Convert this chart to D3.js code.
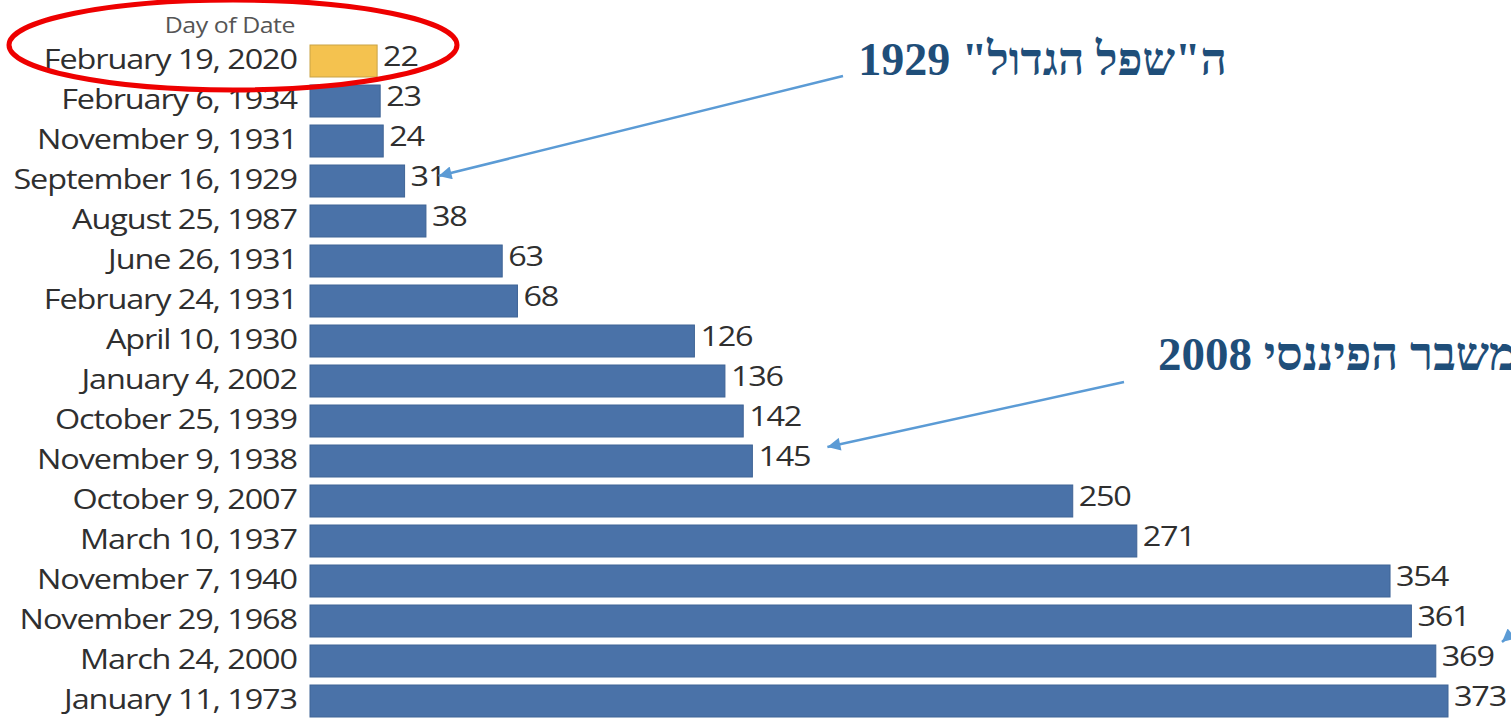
<!DOCTYPE html>
<html>
<head>
<meta charset="utf-8">
<script src="https://cdn.jsdelivr.net/npm/d3@7"></script>
<style>
  body { margin: 0; background: #fff; overflow: hidden; }
  svg { display: block; }
</style>
</head>
<body>
<svg id="chart"></svg>
<script>
// data
const dates = [
  "February 19, 2020", "February 6, 1934", "November 9, 1931", "September 16, 1929",
  "August 25, 1987", "June 26, 1931", "February 24, 1931", "April 10, 1930",
  "January 4, 2002", "October 25, 1939", "November 9, 1938", "October 9, 2007",
  "March 10, 1937", "November 7, 1940", "November 29, 1968", "March 24, 2000",
  "January 11, 1973"
];
const days = [22, 23, 24, 31, 38, 63, 68, 126, 136, 142, 145, 250, 271, 354, 361, 369, 373];
const highlight = ["February 19, 2020"];
const axisTitle = "Day of Date";

// annotations (hebrew callouts)
const noteTexts = ['ה"שפל הגדול" 1929', "המשבר הפיננסי 2008"];

const width = 1511, height = 718;
const margin = {top: 41, left: 310};
const labelFont = "'Open Sans', sans-serif";
const stretch = 1.2; // the source picture is a bit wider than tall

const svg = d3.select("#chart")
  .attr("width", width)
  .attr("height", height);

const data = dates.map((d, i) => ({date: d, value: days[i]}));

const x = d3.scaleLinear()
  .domain([0, d3.max(days)])
  .range([margin.left, 1448]);

const y = d3.scaleBand()
  .domain(dates)
  .range([margin.top, 721])
  .paddingInner(0.2)
  .paddingOuter(0.1);

// bars
svg.append("g").selectAll("rect")
  .data(data)
  .join("rect")
    .attr("x", x(0))
    .attr("y", d => y(d.date))
    .attr("width", d => x(d.value) - x(0))
    .attr("height", y.bandwidth())
    .attr("fill", d => highlight.includes(d.date) ? "#f4c24f" : "#4a72a8")
    .attr("stroke", d => highlight.includes(d.date) ? "#c9a346" : "#3f6496")
    .attr("stroke-width", 1);

// value labels
svg.append("g").selectAll("text")
  .data(data)
  .join("text")
    .attr("transform", d => `translate(${x(d.value) + 6},${y(d.date) + y.bandwidth() / 2}) scale(${stretch},1)`)
    .attr("dy", "0.2em")
    .attr("font-family", labelFont)
    .attr("font-size", 27)
    .attr("letter-spacing", "-1px")
    .attr("fill", "#2f2f2f")
    .text(d => d.value);

// category axis
const yAxis = d3.axisLeft(y).tickSize(0).tickPadding(0);
const yAxisGroup = svg.append("g")
  .attr("transform", `translate(${margin.left - 13},0)`)
  .call(yAxis);
yAxisGroup.select(".domain").remove();
yAxisGroup.selectAll("text")
  .attr("x", 0)
  .attr("transform", `scale(${stretch},1)`)
  .attr("font-family", labelFont)
  .attr("font-size", 27)
  .attr("letter-spacing", "-0.9px")
  .attr("fill", "#2f2f2f")
  .attr("dy", "0.28em");

svg.append("text")
  .attr("transform", "translate(295,33) scale(1.13,1)")
  .attr("text-anchor", "end")
  .attr("font-family", labelFont)
  .attr("font-size", 22)
  .attr("letter-spacing", "-0.4px")
  .attr("fill", "#555")
  .text(axisTitle);

// red ellipse around the 2020 row
svg.append("ellipse")
  .attr("cx", 233)
  .attr("cy", 45)
  .attr("rx", 224)
  .attr("ry", 45)
  .attr("fill", "none")
  .attr("stroke", "#ee0000")
  .attr("stroke-width", 5);

// arrows
svg.append("defs").append("marker")
  .attr("id", "head")
  .attr("viewBox", "0 0 10 10")
  .attr("refX", 10)
  .attr("refY", 5)
  .attr("markerUnits", "userSpaceOnUse")
  .attr("markerWidth", 15)
  .attr("markerHeight", 13)
  .attr("orient", "auto")
  .append("path")
    .attr("d", "M0,0 L10,5 L0,10 Z")
    .attr("fill", "#5b9bd5");

const arrows = [
  {x1: 843, y1: 76, x2: x(31) + 34, y2: y(dates[3]) + y.bandwidth() / 2 - 5},
  {x1: 1124, y1: 382, x2: x(145) + 75, y2: y(dates[10]) + 2},
  {x1: 1620, y1: 540, x2: 1502, y2: 642}
];
svg.append("g").selectAll("line")
  .data(arrows)
  .join("line")
    .attr("x1", d => d.x1)
    .attr("y1", d => d.y1)
    .attr("x2", d => d.x2)
    .attr("y2", d => d.y2)
    .attr("stroke", "#5b9bd5")
    .attr("stroke-width", 2.5)
    .attr("marker-end", "url(#head)");

// hebrew callouts
svg.append("text")
  .attr("x", 1227)
  .attr("y", 75)
  .attr("direction", "rtl")
  .attr("text-anchor", "start")
  .attr("font-family", "'Liberation Serif', 'Times New Roman', serif")
  .attr("font-weight", "bold")
  .attr("font-size", 46)
  .attr("fill", "#1f4e79")
  .text(noteTexts[0]);

svg.append("text")
  .attr("x", 1158)
  .attr("y", 370)
  .attr("direction", "rtl")
  .attr("text-anchor", "end")
  .attr("font-family", "'Liberation Serif', 'Times New Roman', serif")
  .attr("font-weight", "bold")
  .attr("font-size", 47)
  .attr("fill", "#1f4e79")
  .text(noteTexts[1]);
</script>
</body>
</html>
